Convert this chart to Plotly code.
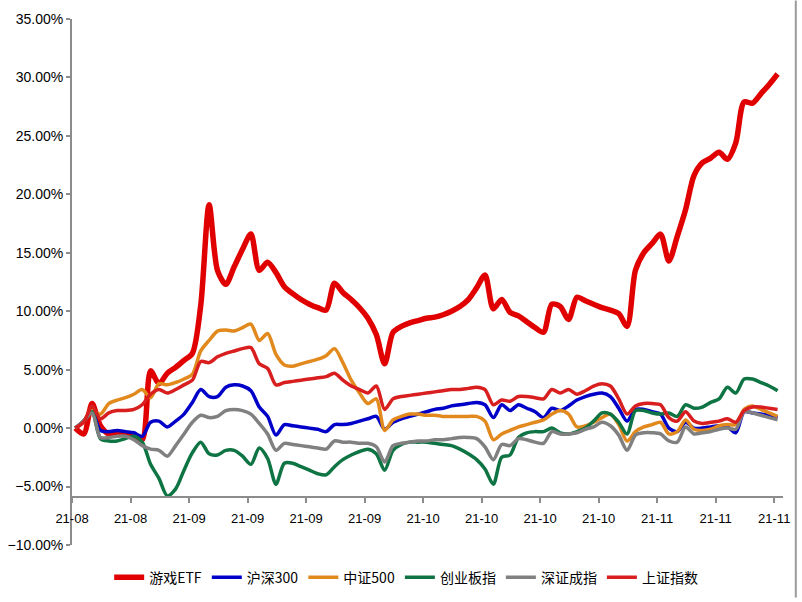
import plotly.graph_objects as go

# ---- data (percent) ----
tick_labels = ["21-08", "21-08", "21-09", "21-09", "21-09", "21-09", "21-10",
               "21-10", "21-10", "21-10", "21-11", "21-11", "21-11"]

game_etf = [0.0, -0.5, 2.1, 0.2, -0.5, -0.5, -0.5, -0.6, -1.0, 4.9,
            3.8, 4.7, 5.2, 5.8, 6.4, 10.5, 19.1, 13.5, 12.3, 13.8,
            15.3, 16.6, 13.5, 14.2, 13.3, 12.1, 11.5, 11.0, 10.6, 10.3,
            10.1, 12.4, 11.6, 11.0, 10.3, 9.4, 8.0, 5.5, 8.2, 8.7,
            9.0, 9.2, 9.4, 9.5, 9.7, 10.0, 10.4, 11.0, 12.0, 13.1,
            10.2, 11.0, 9.9, 9.6, 9.1, 8.6, 8.2, 10.6, 10.4, 9.3,
            11.2, 10.9, 10.6, 10.3, 10.1, 9.8, 8.7, 13.5, 15.0, 15.8,
            16.6, 14.3, 16.4, 18.7, 21.6, 22.7, 23.1, 23.6, 23.0, 24.4,
            27.9, 27.8, 28.6, 29.4, 30.3]

hs300 = [0.0, 0.6, 1.4, -0.2, -0.3, -0.2, -0.3, -0.4, -0.7, 0.5,
         0.6, 0.1, 0.6, 1.2, 2.2, 3.3, 2.7, 2.7, 3.5, 3.7,
         3.6, 3.2, 1.8, 1.0, -0.6, 0.3, 0.2, 0.1, 0.0, -0.1,
         -0.3, 0.3, 0.3, 0.4, 0.6, 0.8, 1.0, -0.1, 0.5, 0.8,
         1.0, 1.2, 1.4, 1.6, 1.7, 1.9, 2.0, 2.1, 2.2, 2.0,
         0.9, 2.0, 1.5, 2.0, 1.7, 1.4, 0.9, 1.7, 1.5, 1.9,
         2.4, 2.7, 2.9, 3.0, 2.7, 1.7, 0.6, 1.6, 1.6, 1.4,
         1.2, 0.0, -0.3, 0.5, 0.0, 0.0, 0.1, 0.2, 0.1, -0.4,
         1.4, 1.3, 1.2, 1.1, 0.9]

zz500 = [0.0, 0.6, 1.5, 1.2, 2.1, 2.4, 2.6, 2.9, 3.3, 2.6,
         3.8, 3.7, 3.9, 4.2, 4.6, 6.6, 7.5, 8.3, 8.4, 8.3,
         8.6, 8.9, 7.5, 8.1, 6.3, 5.4, 5.3, 5.5, 5.7, 5.9,
         6.2, 6.8, 5.6, 4.1, 3.0, 2.1, 2.5, -0.2, 0.7, 1.0,
         1.2, 1.2, 1.1, 1.1, 1.0, 1.0, 1.0, 1.0, 1.0, 0.6,
         -1.0, -0.5, -0.2, 0.1, 0.3, 0.5, 0.7, 1.2, 1.5, 1.2,
         0.1, 0.2, 0.5, 0.9, 1.2, 0.3, -1.1, -0.3, 0.1, 0.3,
         0.5, -0.5, -0.3, 0.7, -0.1, -0.2, -0.1, 0.2, 0.3, 0.3,
         1.6, 1.9, 1.6, 1.3, 1.0]

cyb = [0.0, 0.6, 1.4, -0.9, -1.1, -1.1, -0.9, -0.7, -1.2, -3.1,
       -4.3, -5.8, -5.2, -3.6, -2.1, -1.2, -2.2, -2.3, -1.9, -1.9,
       -2.4, -3.1, -1.7, -2.6, -4.8, -3.0, -3.0, -3.3, -3.6, -3.9,
       -4.0, -3.3, -2.7, -2.3, -2.0, -1.8, -2.2, -3.6, -1.9, -1.4,
       -1.2, -1.2, -1.2, -1.3, -1.4, -1.5, -1.8, -2.2, -2.7, -3.5,
       -4.8, -2.5, -2.3, -0.8, -0.4, -0.3, -0.3, 0.0, -0.4, -0.5,
       -0.3, 0.0, 0.6, 1.3, 1.2, 0.5, -0.5, 1.5, 1.5, 1.3,
       1.2, 1.3, 1.0, 2.0, 1.7, 1.8, 2.2, 2.5, 3.5, 3.0,
       4.2, 4.2, 3.9, 3.6, 3.2]

szcz = [0.0, 0.6, 1.3, -0.8, -0.8, -0.7, -0.7, -1.0, -1.5, -1.8,
        -1.9, -2.4, -1.5, -0.5, 0.5, 1.1, 0.9, 1.0, 1.5, 1.6,
        1.5, 1.2, 0.4, -0.5, -1.9, -1.3, -1.4, -1.5, -1.6, -1.7,
        -1.8, -1.1, -1.2, -1.2, -1.3, -1.3, -1.6, -2.9, -1.5, -1.3,
        -1.2, -1.1, -1.1, -1.0, -1.0, -0.9, -0.8, -0.8, -0.9, -1.6,
        -2.7, -1.4, -1.5, -0.9, -1.0, -1.2, -1.3, -0.3, -0.5, -0.5,
        -0.4, -0.1, 0.1, 0.5, 0.2, -0.6, -1.9, -0.6, -0.4, -0.4,
        -0.5, -1.1, -1.2, 0.1, -0.5, -0.4, -0.3, -0.1, 0.0, -0.1,
        1.4, 1.3, 1.1, 0.9, 0.7]

szzs = [0.0, 0.5, 1.9, 0.8, 1.3, 1.5, 1.5, 1.6, 2.0, 2.9,
        3.3, 3.0, 3.3, 3.7, 4.1, 5.7, 5.6, 6.1, 6.4, 6.6,
        6.8, 6.9, 5.5, 5.1, 3.7, 3.9, 4.0, 4.1, 4.2, 4.3,
        4.4, 4.7, 4.1, 3.6, 3.3, 3.0, 3.6, 1.6, 2.5, 2.7,
        2.8, 2.9, 3.0, 3.1, 3.2, 3.3, 3.3, 3.4, 3.5, 3.3,
        2.0, 2.4, 2.3, 2.7, 2.7, 2.6, 2.5, 3.3, 3.0, 3.3,
        2.9, 3.2, 3.6, 3.8, 3.6, 2.5, 1.2, 1.9, 2.1, 2.1,
        2.0, 0.9, 0.6, 1.4, 0.6, 0.4, 0.5, 0.6, 0.8, 0.5,
        1.5, 1.8, 1.8, 1.7, 1.6]

series = [
    ("游戏ETF", game_etf, "#E00000", 5.5),
    ("沪深300", hs300, "#0000C8", 3.5),
    ("中证500", zz500, "#E2891E", 3.5),
    ("创业板指", cyb, "#0E7443", 3.5),
    ("深证成指", szcz, "#808080", 3.5),
    ("上证指数", szzs, "#D81E1E", 3.5),
]

x = list(range(len(game_etf)))
tick_step = 7
tick_offset = -0.4
tickvals = [tick_offset + tick_step * k for k in range(len(tick_labels))]

fig = go.Figure()
for name, vals, color, w in series:
    fig.add_trace(go.Scatter(
        x=x, y=vals, name=name, mode="lines",
        line=dict(color=color, width=w, shape="spline", smoothing=0.8),
        hoverinfo="skip",
    ))

axis_col = "#8C8C8C"
fig.update_layout(
    width=802, height=602,
    margin=dict(l=72, r=19, t=19, b=57, autoexpand=False),
    paper_bgcolor="white", plot_bgcolor="white",
    font=dict(family="Liberation Sans, Arial, sans-serif", size=12, color="#000"),
    showlegend=True,
    legend=dict(orientation="h", x=0.47, xanchor="center", y=-0.062, yanchor="middle",
                font=dict(family="Noto Sans CJK SC, sans-serif", size=14, color="#000"),
                itemwidth=30, tracegroupgap=0, bgcolor="rgba(0,0,0,0)"),
    xaxis=dict(range=[tick_offset, len(game_etf) - 0.35], tickmode="array",
               tickvals=tickvals, ticktext=tick_labels, automargin=False,
               showgrid=False, zeroline=False, showline=True, linecolor=axis_col, linewidth=2,
               ticks="outside", ticklen=5, tickcolor=axis_col, tickwidth=2,
               ticklabelstandoff=4,
               anchor="free", position=0.091,
               tickfont=dict(family="Liberation Sans, Arial, sans-serif", size=13)),
    yaxis=dict(range=[-10, 35], dtick=5, tick0=0, tickformat=".2f", ticksuffix="%",
               automargin=False,
               showgrid=False, zeroline=False, showline=True, linecolor=axis_col, linewidth=2,
               ticks="outside", ticklen=4, tickcolor=axis_col, tickwidth=2,
               tickfont=dict(family="Liberation Sans, Arial, sans-serif", size=14)),
)

fig.add_shape(type="line", xref="paper", yref="paper", x0=1.018, x1=1.018, y0=-0.1, y1=1.035,
              line=dict(color="#9A9A9A", width=2))

fig.write_html("out.html", config={"displayModeBar": False},
               post_script="document.body.style.margin='0';")
